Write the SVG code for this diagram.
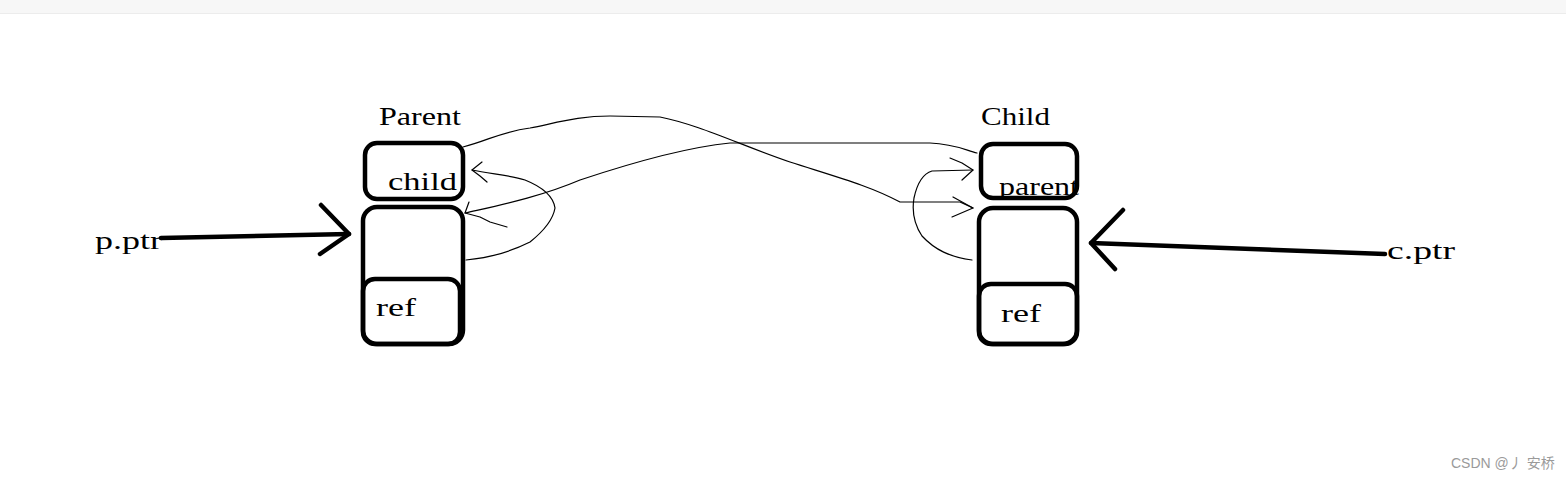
<svg xmlns="http://www.w3.org/2000/svg" width="1566" height="480" viewBox="0 0 1566 480">
<style>
.box{fill:none;stroke:#000;stroke-width:4.5}
.t{font-family:"Liberation Serif","Noto Serif",serif;font-size:25px;fill:#000}
.thin{fill:none;stroke:#000;stroke-width:1.2;stroke-linejoin:round;stroke-linecap:round}
.thick{fill:none;stroke:#000;stroke-width:4.5;stroke-linecap:round;stroke-linejoin:round}
.wm{font-family:"Liberation Sans","Noto Sans CJK SC",sans-serif;font-size:14px;fill:#9a9a9a}
</style>
<defs>
<clipPath id="cp"><rect x="980" y="176" width="100" height="30"/></clipPath>
</defs>
<rect x="0" y="0" width="1566" height="480" fill="#fff"/>
<rect x="0" y="0" width="1566" height="13" fill="#f7f7f7"/>
<line x1="0" y1="13.5" x2="1566" y2="13.5" stroke="#ececec" stroke-width="1"/>

<g id="parent-node">
<text class="t" x="379" y="125" textLength="82" lengthAdjust="spacingAndGlyphs">Parent</text>
<rect class="box" x="365" y="143" width="98" height="56" rx="12"/>
<text class="t" x="388" y="190" textLength="69" lengthAdjust="spacingAndGlyphs">child</text>
<rect class="box" x="363" y="207" width="100" height="137" rx="14"/>
<rect class="box" x="363" y="279" width="97" height="65" rx="12"/>
<text class="t" x="376" y="316" textLength="40" lengthAdjust="spacingAndGlyphs">ref</text>
</g>

<g id="child-node">
<text class="t" x="981" y="125" textLength="69" lengthAdjust="spacingAndGlyphs">Child</text>
<rect class="box" x="981" y="144" width="96" height="54" rx="12"/>
<text class="t" x="999" y="195" textLength="80" lengthAdjust="spacingAndGlyphs" clip-path="url(#cp)">parent</text>
<rect class="box" x="979" y="208" width="98" height="136" rx="14"/>
<rect class="box" x="979" y="284" width="98" height="60" rx="12"/>
<text class="t" x="1001" y="322" textLength="40" lengthAdjust="spacingAndGlyphs">ref</text>
</g>

<g id="pptr">
<text class="t" x="95" y="249" textLength="67" lengthAdjust="spacingAndGlyphs">p.ptr</text>
</g>
<g id="cptr">
<text class="t" x="1387" y="259" textLength="68" lengthAdjust="spacingAndGlyphs">c.ptr</text>
</g>

<g id="connectors">
<path class="thick" d="M161,238 L349,234"/>
<path class="thick" d="M321,205 L349,234 L320,254"/>
<path class="thick" d="M1385,254 L1091,243"/>
<path class="thick" d="M1123,210 L1091,243 L1115,269"/>

<path class="thin" d="M463,147 C490,140 500,132 530,128 C560,122 580,116 610,116 L660,117 C700,125 740,145 790,162 C840,178 870,186 900,202 L960,202 L973,208"/>
<path class="thin" d="M953,197 L973,208 L952,217"/>

<path class="thin" d="M465,213 C500,205 540,197 580,180 C640,160 690,147 730,143 L930,143 C955,144 965,150 977,153"/>
<path class="thin" d="M469,202 L465,213 L480,217 L490,222 L507,227"/>

<path class="thin" d="M466,260 C490,258 510,252 530,242 C545,230 553,220 555,208 C553,194 540,186 525,180 C510,175 490,174 472,170"/>
<path class="thin" d="M482,162 L472,170 L480,176 L487,182"/>

<path class="thin" d="M972,260 C950,257 935,250 922,236 C914,224 912,210 914,198 C917,184 922,174 932,171 L973,170"/>
<path class="thin" d="M950,158 L962,163 L973,170 L962,180"/>
</g>

<text class="wm" x="1451" y="468">CSDN @丿 安桥</text>
</svg>
